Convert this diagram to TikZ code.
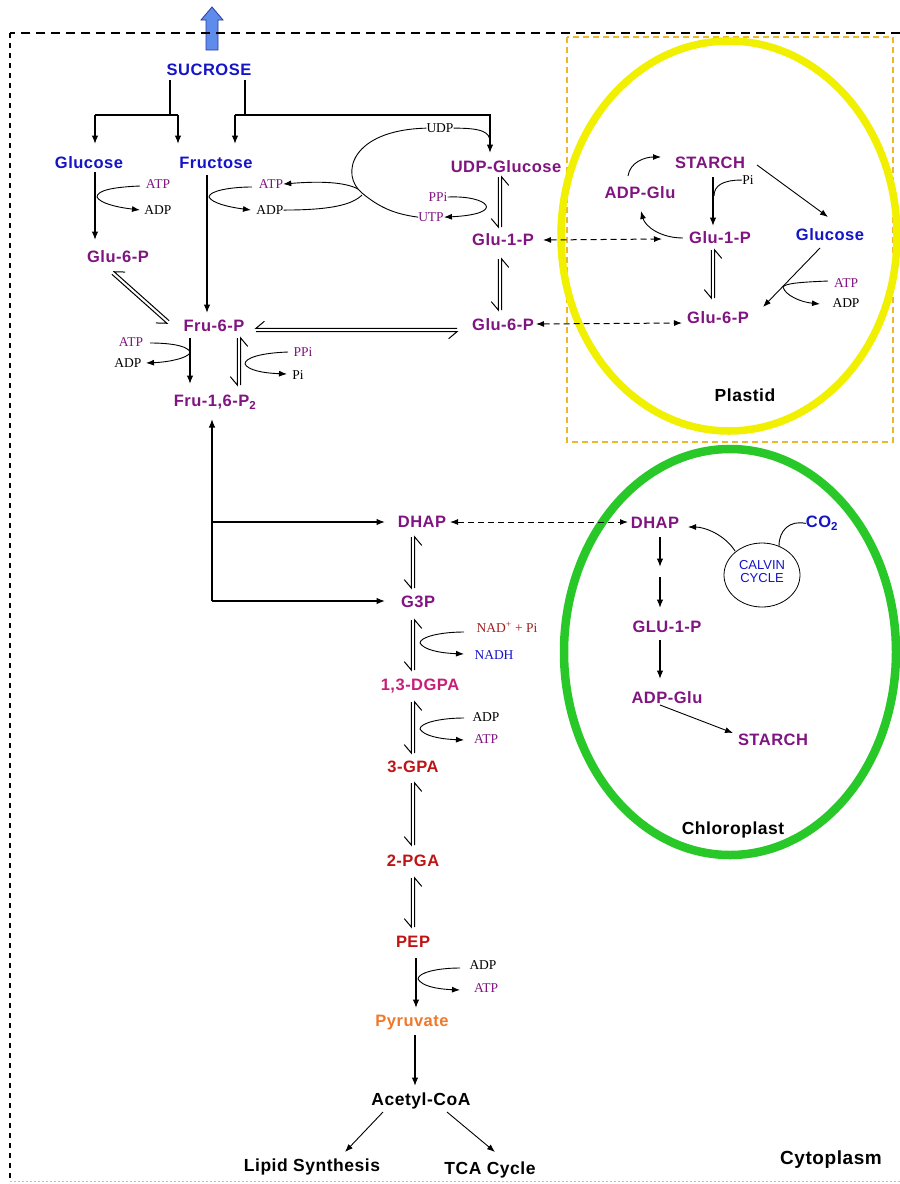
\documentclass[tikz,border=0pt]{standalone}
\usepackage{fontspec}
\setmainfont{Liberation Serif}
\newfontfamily\labfont[LetterSpace=3]{Liberation Sans}
\newfontfamily\calfont{Liberation Sans}
\usetikzlibrary{arrows.meta,calc}
\definecolor{cpurple}{RGB}{128,20,128}
\definecolor{cblue}{RGB}{20,20,200}
\definecolor{cred}{RGB}{190,20,20}
\definecolor{cmag}{RGB}{200,30,120}
\definecolor{corange}{RGB}{240,120,40}
\definecolor{cnad}{RGB}{160,30,30}
\definecolor{cyel}{RGB}{240,240,0}
\definecolor{cgreen}{RGB}{40,200,40}
\definecolor{cdash}{RGB}{235,185,40}
\definecolor{carrow}{RGB}{95,140,235}
\definecolor{carrowd}{RGB}{40,60,160}
\newcommand\eqarr[2]{%
  \path ($(#1)!1.7pt!-90:(#2)$) coordinate (eqa) ($(#2)!1.7pt!90:(#1)$) coordinate (eqb)
        ($(#2)!1.7pt!-90:(#1)$) coordinate (eqc) ($(#1)!1.7pt!90:(#2)$) coordinate (eqd);
  \draw[eqln] (eqa) -- (eqb) -- ($(eqb)!11pt!40:(eqa)$);
  \draw[eqln] (eqc) -- (eqd) -- ($(eqd)!11pt!40:(eqc)$);
}
\begin{document}
\begin{tikzpicture}[x=1pt,y=-1pt,
  lab/.style={font={\labfont\bfseries\fontsize{16.5}{19}\selectfont}, inner sep=0pt, anchor=base, yshift=-5.9pt},
  big/.style={font={\labfont\bfseries\fontsize{17.5}{20}\selectfont}, inner sep=0pt, anchor=base, yshift=-6.2pt},
  met/.style={lab, text=cpurple},
  sug/.style={lab, text=cblue},
  sm/.style={font={\fontsize{13.5}{15}\selectfont}, inner sep=0pt, anchor=base, yshift=-4.5pt},
  ar/.style={line width=1.2pt, -{Latex[length=8.5pt,width=6.5pt]}},
  ln/.style={line width=1.2pt},
  cf/.style={line width=0.9pt, -{Latex[length=8pt,width=6pt]}},
  cfl/.style={line width=0.9pt},
  da/.style={line width=1pt, dash pattern=on 6pt off 4pt, {Latex[length=8pt,width=6pt]}-{Latex[length=8pt,width=6pt]}},
  eqln/.style={line width=1pt}]
\useasboundingbox (0,0) rectangle (900,1184);
\fill[white] (0,0) rectangle (900,1184);

% compartments
\draw[cdash, line width=1.2pt, dash pattern=on 6pt off 4pt] (567,37) rectangle (893,442);
\draw[cyel, line width=7.5pt] (729,236) ellipse [x radius=168, y radius=195];
\draw[cgreen, line width=8.5pt] (730,652) ellipse [x radius=166, y radius=203];

% export arrow
\filldraw[fill=carrow, draw=carrowd, line width=0.8pt] (206,50) -- (206,20) -- (201,20) -- (212,7) -- (223,20) -- (218,20) -- (218,50) -- cycle;
\draw[line width=1.1pt, dash pattern=on 9pt off 6pt] (900,33) -- (10,33);
\draw[line width=1.1pt, dash pattern=on 5pt off 5pt] (10,33) -- (10,1181);
\draw[gray!50, line width=0.8pt, dash pattern=on 2pt off 2pt] (10,1181) -- (900,1181);

% cytosol nodes
\node[sug] (sucrose) at (209,70) {SUCROSE};
\node[sug] (glcC) at (89,163) {Glucose};
\node[sug] (fruC) at (216,163) {Fructose};
\node[met] (udpg) at (506,167) {UDP-Glucose};
\node[met] (g6pL) at (118,257) {Glu-6-P};
\node[met] (g1pC) at (503,240) {Glu-1-P};
\node[met] (g6pC) at (503,325) {Glu-6-P};
\node[met] (f6p) at (214,326) {Fru-6-P};
\node[met] (f16) at (215,401) {Fru-1,6-P\textsubscript{2}};

\node[sm, text=cpurple] (atp1) at (158,184) {ATP};
\node[sm] (adp1) at (158,210) {ADP};
\node[sm, text=cpurple] (atp2) at (271,184) {ATP};
\node[sm] (adp2) at (270,210) {ADP};
\node[sm] (udp) at (440,128) {UDP};
\node[sm, text=cpurple] (ppi) at (438,197) {PPi};
\node[sm, text=cpurple] (utp) at (431,217) {UTP};
\node[sm, text=cpurple] (atp3) at (131,342) {ATP};
\node[sm] (adp3) at (128,363) {ADP};
\node[sm, text=cpurple] (ppi2) at (303,352) {PPi};
\node[sm] (pi2) at (298,375) {Pi};

% glycolysis nodes
\node[met] (dhapC) at (422,522) {DHAP};
\node[met] (g3p) at (418,602) {G3P};
\node[lab, text=cmag] (dgpa) at (420,685) {1,3-DGPA};
\node[lab, text=cred] (gpa3) at (413,767) {3-GPA};
\node[lab, text=cred] (pga2) at (413,861) {2-PGA};
\node[lab, text=cred] (pep) at (413,942) {PEP};
\node[lab, text=corange] (pyr) at (412,1021) {Pyruvate};
\node[big] (acoa) at (421,1099) {Acetyl-CoA};
\node[big] (lipid) at (312,1165) {Lipid Synthesis};
\node[big] (tca) at (490,1168) {TCA Cycle};
\node[big, font={\labfont\bfseries\fontsize{19}{22}\selectfont}] (cyto) at (831,1158) {Cytoplasm};
\node[sm, text=cnad] (nad) at (507,628) {NAD\textsuperscript{+} + Pi};
\node[sm, text=cblue] (nadh) at (494,655) {NADH};
\node[sm] (adp4) at (486,717) {ADP};
\node[sm, text=cpurple] (atp4) at (486,739) {ATP};
\node[sm] (adp5) at (483,965) {ADP};
\node[sm, text=cpurple] (atp5) at (486,988) {ATP};

% plastid nodes
\node[met] (starchP) at (710,163) {STARCH};
\node[met] (adpgP) at (640,193) {ADP-Glu};
\node[met] (g1pP) at (720,238) {Glu-1-P};
\node[sug] (glcP) at (830,235) {Glucose};
\node[met] (g6pP) at (718,318) {Glu-6-P};
\node[sm, text=cpurple] (atpP) at (846,283) {ATP};
\node[sm] (adpP) at (846,303) {ADP};
\node[sm] (piP) at (748,180) {Pi};
\node[big] (plastid) at (745,395) {Plastid};

% chloroplast nodes
\node[met] (dhapK) at (655,523) {DHAP};
\node[sug] (co2) at (822,522) {CO\textsubscript{2}};
\draw[line width=0.8pt] (762,575) ellipse [x radius=38, y radius=32];
\node[font={\calfont\fontsize{13}{13}\selectfont}, text=cblue, align=center, inner sep=0pt] (calvin) at (762,572) {CALVIN\\CYCLE};
\node[met] (glu1K) at (667,627) {GLU-1-P};
\node[met] (adpgK) at (667,698) {ADP-Glu};
\node[met] (starchK) at (773,740) {STARCH};
\node[big] (chloro) at (733,828) {Chloroplast};

% sucrose breakdown
\draw[ln] (170,80) -- (170,115);
\draw[ln] (95,115) -- (178,115);
\draw[ar] (95,115) -- (95,144);
\draw[ar] (178,115) -- (178,144);
\draw[ln] (245,80) -- (245,115);
\draw[ar] (235,115) -- (235,144);
\draw[ar] (235,115) -| (490,153);

% hexose phosphorylation
\draw[ar] (95,172) -- (95,240);
\draw[ar] (207,175) -- (207,313);
\draw[cf] (140,186) .. controls (115,187) and (97,190) .. (97,197) .. controls (100,203) and (115,207) .. (140,210);
\draw[cf] (252,187) .. controls (230,187) and (209,191) .. (209,197) .. controls (212,203) and (228,207) .. (251,210);

% UDP loop
\draw[cfl] (udp.east) .. controls (482,128) and (490,132) .. (490,142);
\draw[cfl] (udp.west) .. controls (350,130) and (340,175) .. (362,193) .. controls (380,208) and (395,214) .. (utp.west);
\draw[cf] (358,189) .. controls (345,182) and (320,181) .. (atp2.east);
\draw[cfl] (adp2.east) .. controls (330,210) and (352,205) .. (362,195);
\draw[cf] (ppi.east) .. controls (488,195) and (508,214) .. (utp.east);

% equilibria
\eqarr{500,177}{500,227}
\eqarr{500,259}{500,310}
\eqarr{256,330}{457,330}
\eqarr{113,273}{168,322}
\eqarr{239,338}{239,385}
\eqarr{413,537}{413,588}
\eqarr{413,620}{413,670}
\eqarr{413,702}{413,753}
\eqarr{413,783}{413,845}
\eqarr{413,878}{413,927}
\eqarr{713,250}{713,298}

% PFK / PFP
\draw[ar] (190,338) -- (190,384);
\draw[cf] (150,343) .. controls (175,343) and (190,347) .. (190,353) .. controls (187,358) and (170,362) .. (146,363);
\draw[cf] (288,352) .. controls (260,353) and (245,358) .. (245,364) .. controls (248,370) and (262,373) .. (287,374);

% aldolase
\draw[ar] (212,601) -- (212,419);
\draw[ar] (212,522) -- (385,522);
\draw[ar] (212,601) -- (385,601);

% transporters
\draw[da] (543,240) -- (662,239);
\draw[da] (536,324) -- (682,323);
\draw[da] (450,522) -- (628,522);

% glycolysis cofactors
\draw[cf] (464,632) .. controls (440,632) and (420,637) .. (420,643) .. controls (424,650) and (440,653) .. (464,654);
\draw[cf] (464,718) .. controls (440,718) and (420,723) .. (420,729) .. controls (424,736) and (440,739) .. (464,740);
\draw[ar] (416,958) -- (416,1008);
\draw[cf] (460,968) .. controls (436,968) and (418,973) .. (418,979) .. controls (422,986) and (436,989) .. (460,990);
\draw[ar] (415,1035) -- (415,1086);
\draw[cf] (383,1112) -- (345,1152);
\draw[cf] (447,1112) -- (495,1152);

% plastid arrows
\draw[cf] (628,176) .. controls (630,162) and (645,157) .. (661,157);
\draw[ar] (713,177) -- (713,226);
\draw[cfl] (piP.west) .. controls (722,180) and (714,186) .. (714,196);
\draw[cf] (683,238) .. controls (660,238) and (645,226) .. (641,211);
\draw[cf] (757,165) -- (828,217);
\draw[cf] (820,248) -- (763,307);
\draw[cf] (828,281) .. controls (805,282) and (785,283) .. (783,287) .. controls (785,295) and (800,302) .. (820,304);

% chloroplast arrows
\draw[ar] (660,537) -- (660,567);
\draw[ar] (660,577) -- (660,608);
\draw[ar] (660,640) -- (660,679);
\draw[cf] (660,705) -- (733,733);
\draw[cfl] (co2.west) .. controls (790,520) and (779,530) .. (779,546);
\draw[cf] (735,551) .. controls (725,535) and (705,527) .. (688,527);
\end{tikzpicture}
\end{document}
